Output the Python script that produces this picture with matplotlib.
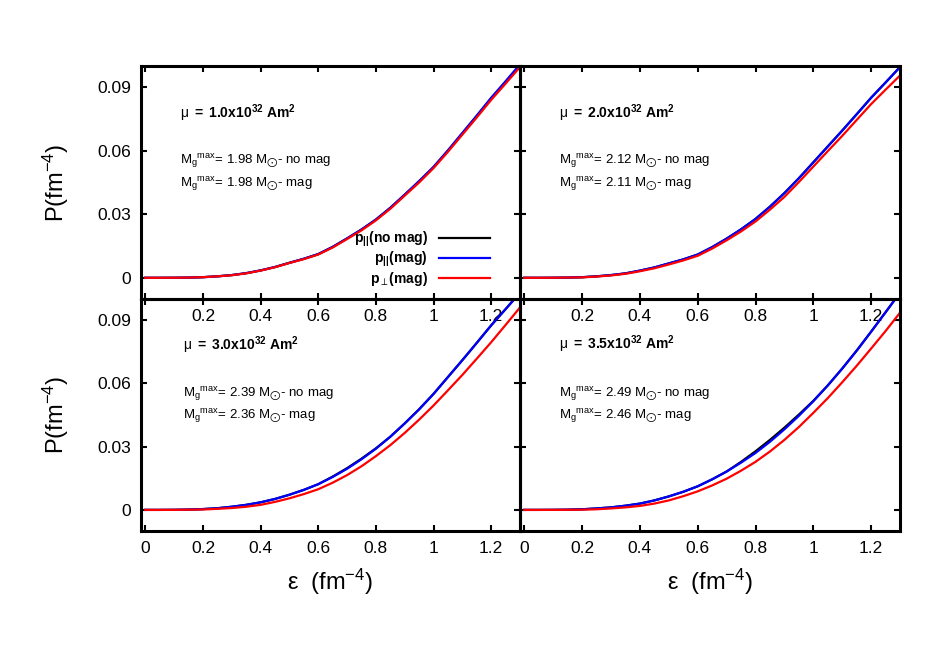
import numpy as np
import matplotlib.pyplot as plt

plt.rcParams['font.family'] = ['Liberation Sans', 'DejaVu Sans']
plt.rcParams['mathtext.fontset'] = 'custom'
plt.rcParams['mathtext.rm'] = 'Liberation Sans'
plt.rcParams['mathtext.it'] = 'Liberation Sans'
plt.rcParams['mathtext.bf'] = 'Liberation Sans:bold'
plt.rcParams['mathtext.default'] = 'regular'
plt.rcParams['mathtext.fallback'] = 'stixsans'

# energy density grid (fm^-4), step 0.05
eps = [0, 0.05, 0.1, 0.15, 0.2, 0.25, 0.3, 0.35, 0.4, 0.45, 0.5, 0.55, 0.6, 0.65,
       0.7, 0.75, 0.8, 0.85, 0.9, 0.95, 1.0, 1.05, 1.1, 1.15, 1.2, 1.25, 1.3]

# mu = 1.0e32
nomag_1 = [0, 0, 0.00003, 0.0001, 0.0003, 0.0007, 0.0013, 0.0022, 0.0035, 0.0051, 0.0071, 0.0090, 0.0112, 0.0146,
           0.0186, 0.0228, 0.0275, 0.0330, 0.0392, 0.0455, 0.0522, 0.0600, 0.0682, 0.0764, 0.0848, 0.0925, 0.1005]
par_1   = [0, 0, 0.00003, 0.0001, 0.0003, 0.0007, 0.0013, 0.0022, 0.0035, 0.0051, 0.0071, 0.0090, 0.0112, 0.0146,
           0.0186, 0.0228, 0.0275, 0.0331, 0.0393, 0.0457, 0.0524, 0.0602, 0.0684, 0.0766, 0.0850, 0.0928, 0.1008]
perp_1  = [0, 0, 0.00003, 0.0001, 0.0003, 0.0007, 0.0012, 0.0021, 0.0034, 0.0050, 0.0070, 0.0088, 0.0110, 0.0143,
           0.0183, 0.0224, 0.0271, 0.0326, 0.0388, 0.0450, 0.0518, 0.0595, 0.0676, 0.0757, 0.0840, 0.0917, 0.0995]

# mu = 2.0e32
nomag_2 = [0, 0, 0.00003, 0.0001, 0.0003, 0.0007, 0.0013, 0.0021, 0.0034, 0.0049, 0.0068, 0.0087, 0.0110, 0.0145,
           0.0185, 0.0229, 0.0278, 0.0336, 0.0400, 0.0470, 0.0545, 0.0620, 0.0695, 0.0772, 0.0850, 0.0922, 0.0995]
par_2   = [0, 0, 0.00003, 0.0001, 0.0003, 0.0007, 0.0013, 0.0021, 0.0034, 0.0049, 0.0068, 0.0087, 0.0110, 0.0145,
           0.0185, 0.0229, 0.0278, 0.0336, 0.0400, 0.0470, 0.0545, 0.0620, 0.0695, 0.0772, 0.0850, 0.0922, 0.0995]
perp_2  = [0, 0, 0.00002, 0.0001, 0.0002, 0.0006, 0.0011, 0.0019, 0.0031, 0.0045, 0.0063, 0.0082, 0.0104, 0.0138,
           0.0177, 0.0219, 0.0266, 0.0322, 0.0382, 0.0452, 0.0525, 0.0598, 0.0670, 0.0745, 0.0820, 0.0888, 0.0955]

# mu = 3.0e32
nomag_3 = [0, 0, 0.00004, 0.00015, 0.0004, 0.0008, 0.0015, 0.0024, 0.0036, 0.0052, 0.0072, 0.0095, 0.0122, 0.0158,
           0.0198, 0.0243, 0.0292, 0.0347, 0.0410, 0.0477, 0.0550, 0.0630, 0.0710, 0.0792, 0.0875, 0.0952, 0.1030]
par_3   = [0, 0, 0.00004, 0.00015, 0.0004, 0.0008, 0.0015, 0.0024, 0.0036, 0.0052, 0.0072, 0.0095, 0.0122, 0.0156,
           0.0195, 0.0240, 0.0290, 0.0347, 0.0410, 0.0477, 0.0550, 0.0630, 0.0710, 0.0792, 0.0875, 0.0952, 0.1030]
perp_3  = [0, 0, 0.00002, 0.0001, 0.0002, 0.0005, 0.0009, 0.0015, 0.0024, 0.0038, 0.0055, 0.0075, 0.0098, 0.0129,
           0.0165, 0.0207, 0.0255, 0.0307, 0.0365, 0.0428, 0.0495, 0.0567, 0.0640, 0.0717, 0.0795, 0.0877, 0.0960]

# mu = 3.5e32
nomag_4 = [0, 0, 0.00003, 0.0001, 0.0003, 0.0007, 0.0012, 0.0020, 0.0030, 0.0045, 0.0064, 0.0086, 0.0112, 0.0145,
           0.0182, 0.0228, 0.0278, 0.0332, 0.0390, 0.0452, 0.0517, 0.0590, 0.0670, 0.0755, 0.0845, 0.0937, 0.1030]
par_4   = [0, 0, 0.00003, 0.0001, 0.0003, 0.0007, 0.0012, 0.0020, 0.0030, 0.0045, 0.0064, 0.0086, 0.0112, 0.0145,
           0.0182, 0.0224, 0.0270, 0.0323, 0.0382, 0.0446, 0.0515, 0.0590, 0.0670, 0.0755, 0.0845, 0.0937, 0.1030]
perp_4  = [0, 0, 0.00001, 0.00004, 0.0001, 0.0003, 0.0007, 0.0012, 0.0019, 0.0030, 0.0045, 0.0065, 0.0088, 0.0116,
           0.0148, 0.0186, 0.0228, 0.0277, 0.0332, 0.0393, 0.0460, 0.0530, 0.0605, 0.0683, 0.0765, 0.0848, 0.0935]

mu_values = ['1.0', '2.0', '3.0', '3.5']
mass_nomag = ['1.98', '2.12', '2.39', '2.49']
mass_mag = ['1.98', '2.11', '2.36', '2.46']

panels = [(nomag_1, par_1, perp_1), (nomag_2, par_2, perp_2),
          (nomag_3, par_3, perp_3), (nomag_4, par_4, perp_4)]

xticks = [0, 0.2, 0.4, 0.6, 0.8, 1.0, 1.2]
xlabels = ['0', '0.2', '0.4', '0.6', '0.8', '1', '1.2']
yticks = [0, 0.03, 0.06, 0.09]
ylabels = ['0', '0.03', '0.06', '0.09']

W, H = 949, 664
def box(x0, y0, x1, y1):
    return [x0 / W, 1 - y1 / H, (x1 - x0) / W, (y1 - y0) / H]

boxes = [box(141, 66, 520, 299), box(520, 66, 900, 299),
         box(141, 299, 520, 531), box(520, 299, 900, 531)]
mu_y = [0.776, 0.776, 0.78, 0.784]

fig = plt.figure(figsize=(9.49, 6.64), dpi=100)

for i, (b, (nm, pa, pe)) in enumerate(zip(boxes, panels)):
    ax = fig.add_axes(b)
    ax.set_facecolor('none')
    ax.plot(eps, nm, color='black', lw=1.6, label=r'p$_{||}$(no mag)')
    ax.plot(eps, pa, color='blue', lw=1.6, label=r'p$_{||}$(mag)')
    ax.plot(eps, pe, color='red', lw=1.6, label=r'p$_{\perp}$(mag)')
    ax.set_xlim(-0.015, 1.3)
    ax.set_ylim(-0.01, 0.1)
    ax.set_xticks(xticks)
    ax.set_yticks(yticks)
    if i < 2:
        ax.set_xticklabels([''] + xlabels[1:])
    else:
        ax.set_xticklabels(xlabels)
        ax.set_xlabel(u'\u03b5  (fm$^{-4}$)', fontsize=17, labelpad=8)
    if i % 2 == 0:
        ax.set_yticklabels(ylabels)
        ax.set_ylabel(r'P(fm$^{-4}$)', fontsize=17, labelpad=19)
    else:
        ax.set_yticklabels([])
    ax.tick_params(direction='in', top=True, right=True, length=4, width=1.5,
                   labelsize=12.5, pad=7)
    for s in ax.spines.values():
        s.set_linewidth(2.2)

    xt = 0.103 if i != 2 else 0.111
    ax.text(xt, mu_y[i],
            r'$\mu\ \mathbf{=\ ' + mu_values[i] + r'x10^{32}\ Am^{2}}$',
            transform=ax.transAxes, fontsize=10, va='baseline')
    ax.text(xt, 0.579, r'M$_g$$^{max}$= ' + mass_nomag[i] + r' M$_{\bigodot}$- no mag',
            transform=ax.transAxes, fontsize=9.5, va='baseline')
    ax.text(xt, 0.482, r'M$_g$$^{max}$= ' + mass_mag[i] + r' M$_{\bigodot}$- mag',
            transform=ax.transAxes, fontsize=9.5, va='baseline')

    if i == 0:
        leg = ax.legend(loc='lower right', bbox_to_anchor=(0.955, -0.005),
                        frameon=False, markerfirst=False, handlelength=3.7,
                        labelspacing=0.05, handletextpad=0.8,
                        prop={'weight': 'bold', 'size': 10})

plt.savefig('out.png', dpi=100)
